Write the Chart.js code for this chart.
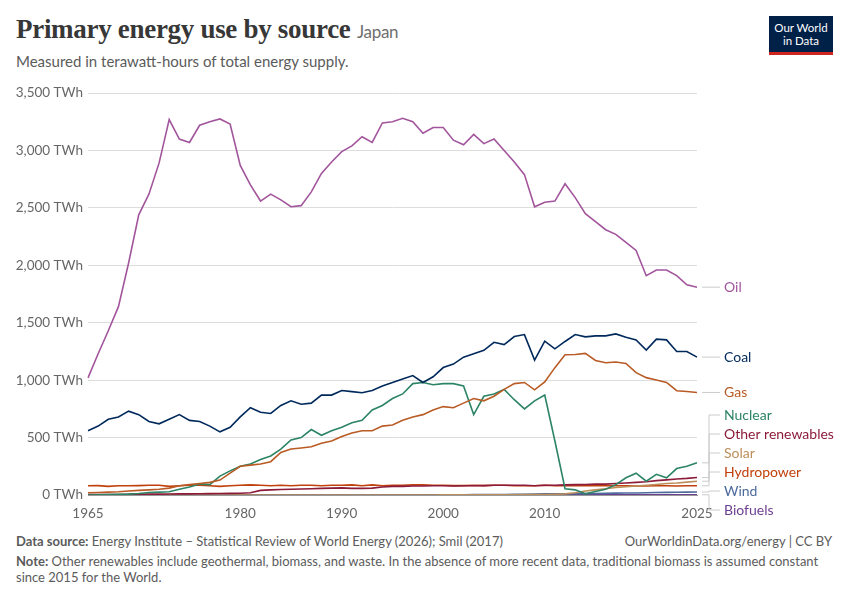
<!DOCTYPE html>
<html><head><meta charset="utf-8">
<script src="https://cdn.jsdelivr.net/npm/chart.js@4"></script>
<style>
body{margin:0;width:850px;height:600px;background:#fff;font-family:Lato,sans-serif;position:relative;overflow:hidden}
.t{position:absolute;left:16px;top:14px;font-family:"Liberation Serif",serif;font-size:27px;color:#373737;font-weight:bold;letter-spacing:-0.3px}
.t span{font-family:Lato;font-size:17px;color:#6e6e6e;font-weight:normal}
.s{position:absolute;left:16px;top:52px;font-size:15px;color:#5b5b5b}
.logo{position:absolute;left:769px;top:16px;width:64px;height:36px;background:#002147;color:#fff;font-size:11.5px;line-height:13px;text-align:center;border-bottom:3px solid #ce261e;display:flex;align-items:center;justify-content:center}
.f{position:absolute;left:16px;font-size:13px;color:#5b5b5b}
#wrap{position:absolute;left:0;top:80px;width:850px;height:450px}
</style></head><body>
<div class="t">Primary energy use by source <span>Japan</span></div>
<div class="s">Measured in terawatt-hours of total energy supply.</div>
<div class="logo">Our World<br>in Data</div>
<div id="wrap"><canvas id="c"></canvas></div>
<div class="f" style="top:533px"><b>Data source:</b> Energy Institute – Statistical Review of World Energy (2026); Smil (2017)</div>
<div class="f" style="top:533px;left:auto;right:18px">OurWorldinData.org/energy | CC BY</div>
<div class="f" style="top:553px;width:815px;line-height:16px"><b>Note:</b> Other renewables include geothermal, biomass, and waste. In the absence of more recent data, traditional biomass is assumed constant since 2015 for the World.</div>
<script>
const years=[];for(let y=1965;y<=2025;y++)years.push(String(y));
const oil=[1020,1230,1430,1640,2020,2440,2620,2890,3270,3100,3070,3220,3250,3275,3230,2870,2700,2560,2620,2570,2510,2520,2640,2800,2900,2990,3040,3120,3070,3240,3250,3280,3250,3150,3200,3200,3090,3050,3140,3060,3100,3000,2900,2790,2510,2550,2560,2710,2590,2450,2380,2310,2270,2200,2130,1910,1960,1960,1910,1830,1810];
const coal=[560,600,660,680,730,700,640,620,660,700,650,640,600,550,590,680,760,720,710,780,820,790,800,870,870,910,900,890,910,950,980,1010,1040,980,1030,1110,1140,1200,1230,1260,1330,1310,1380,1397,1175,1340,1273,1337,1397,1377,1386,1386,1403,1374,1351,1262,1357,1351,1250,1250,1201];
const gas=[20,22,25,28,35,40,45,50,60,80,90,100,110,130,190,250,260,270,290,370,400,410,420,450,470,510,540,560,560,600,610,650,680,700,740,770,760,800,840,820,860,920,970,980,916,985,1109,1221,1224,1233,1172,1152,1158,1146,1066,1022,1002,980,908,902,893];
const nuclear=[0,2,5,6,8,13,22,25,28,50,70,95,90,165,210,250,270,310,340,400,480,500,570,520,560,590,630,650,740,780,840,880,970,980,960,970,970,950,700,860,880,920,830,750,820,870,470,55,45,10,30,50,90,150,190,120,180,150,230,250,280];
const hydro=[80,82,75,80,80,82,85,85,75,80,85,85,80,75,80,85,88,85,80,85,80,85,85,80,85,85,88,80,88,80,85,85,88,88,85,85,82,82,85,82,85,85,80,80,80,85,80,80,80,80,82,80,80,80,78,78,80,80,78,80,80];
const otherRen=[5,5,5,5,6,7,8,8,9,10,10,11,12,13,14,15,20,40,45,48,50,52,55,58,60,62,58,58,60,70,75,75,78,78,80,80,78,80,80,82,85,85,85,85,80,85,85,88,90,92,95,95,100,105,110,115,125,132,140,145,152];
const solar=[0,0,0,0,0,0,0,0,0,0,0,0,0,0,0,0,0,0,0,0,0,0,0,0,0,0,0,0,0,0,0,0,0,0,0,1,1,1,1,2,2,2,2,3,3,5,7,10,20,35,45,55,65,72,78,85,92,100,105,112,120];
const wind=[0,0,0,0,0,0,0,0,0,0,0,0,0,0,0,0,0,0,0,0,0,0,0,0,0,0,0,0,0,0,0,0,0,0,1,1,2,2,3,4,5,5,6,7,8,10,10,10,11,12,13,14,16,17,18,20,22,23,24,25,26];
const biofuels=[0,0,0,0,0,0,0,0,0,0,0,0,0,0,0,0,0,0,0,0,0,0,0,0,0,0,0,0,0,0,0,0,0,0,0,0,0,0,0,0,0,0,0,0,0,1,1,1,1,2,2,2,2,2,2,2,2,2,2,2,2];
const xTicks=['1965','1980','1990','2000','2010','2025'];
const yTicks=[0,500,1000,1500,2000,2500,3000,3500];
const series=[
 ['Oil',oil,'#a2559c'],['Coal',coal,'#00295b'],['Gas',gas,'#b95b25'],['Nuclear',nuclear,'#2c8465'],
 ['Other renewables',otherRen,'#8c1b3a'],['Solar',solar,'#bc8e5a'],['Hydropower',hydro,'#c0410c'],
 ['Wind',wind,'#4c6a9c'],['Biofuels',biofuels,'#6d3e91']];
const labelY={Nuclear:415,'Other renewables':434,Solar:453,Hydropower:472,Wind:491,Biofuels:510};
const labels={id:'lab',afterDraw(c){const x=c.scales.x,y=c.scales.y,ctx=c.ctx;ctx.save();ctx.font='14px Lato';ctx.textBaseline='middle';
 series.forEach((s,i)=>{const v=s[1][s[1].length-1];const py=y.getPixelForValue(v);const x0=x.right+5;
  let ly=labelY[s[0]]!==undefined?labelY[s[0]]-80:py;
  ctx.strokeStyle='#ccc';ctx.lineWidth=1;ctx.beginPath();
  if(labelY[s[0]]!==undefined){ctx.moveTo(x0,py);ctx.lineTo(x0+7,py);ctx.lineTo(x0+7,ly);ctx.lineTo(x0+18,ly);}
  else{ctx.moveTo(x0,py);ctx.lineTo(x0+18,py);}
  ctx.stroke();ctx.fillStyle=s[2];ctx.fillText(s[0],x0+22,ly);});ctx.restore();}};
new Chart(document.getElementById('c'),{type:'line',
 data:{labels:years,datasets:series.map(s=>({label:s[0],data:s[1],borderColor:s[2],borderWidth:1.6,pointRadius:0,tension:0}))},
 options:{responsive:true,maintainAspectRatio:false,animation:false,
  layout:{padding:{left:16,right:153,top:10,bottom:0}},
  plugins:{legend:{display:false},tooltip:{enabled:false}},
  scales:{
   x:{grid:{display:false},border:{color:'#999'},afterFit(a){a.height=35},
     ticks:{autoSkip:false,maxRotation:0,color:'#666',font:{family:'Lato',size:13.5},callback(v){const l=this.getLabelForValue(v);return xTicks.includes(l)?l:null}}},
   y:{min:0,max:3500,afterFit(a){a.width=72},afterBuildTicks(a){a.ticks=yTicks.map(v=>({value:v}))},border:{display:false},
     grid:{color:'#ddd',borderDash:[4,4],drawTicks:false},
     ticks:{color:'#666',padding:5,font:{family:'Lato',size:13.5},callback:v=>v.toLocaleString('en-US')+' TWh'}}}},
 plugins:[labels]});
</script></body></html>
